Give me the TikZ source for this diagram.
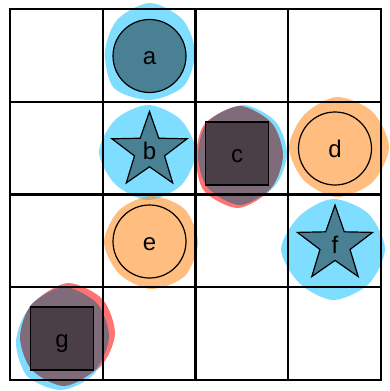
\documentclass[tikz,border=0pt]{standalone}
\usepackage{fontspec}
\setmainfont{Liberation Sans}
\usetikzlibrary{shapes.geometric}
\definecolor{skyb}{RGB}{0,191,255}
\definecolor{orng}{RGB}{255,125,0}
\definecolor{redb}{RGB}{255,0,0}
\definecolor{mauve}{RGB}{128,107,123}
\tikzset{
  blueblob/.style={fill=skyb, fill opacity=0.5},
  orangeblob/.style={fill=orng, fill opacity=0.5},
  redblob/.style={fill=redb, fill opacity=0.55},
  mauveblob/.style={fill=mauve},
  gridline/.style={line width=2.2pt, black},
  shp/.style={draw=black, line width=1.2pt, inner sep=0pt, text height=17.2pt, text depth=0pt, font=\fontsize{24}{28}\selectfont},
  darkfill/.style={fill=black, fill opacity=0.42, text opacity=1},
  circ/.style={shp, circle, minimum size=73pt},
  sq/.style={shp, rectangle, minimum size=62.6pt, line width=1.5pt},
  starshape/.style={shp, star, star points=5, star point ratio=2.5, minimum size=79pt},
}
% #1 style, #2 center, #3-#10 radii at 0,45,...,315 (screen angles, y down)
\newcommand\myblob[3]{%
  \fill[#1] plot[smooth cycle, tension=0.8] coordinates {#3};}
\begin{document}
\begin{tikzpicture}[x=1pt, y=-1pt]
\useasboundingbox (0,0) rectangle (389,391);
\fill[white] (0,0) rectangle (389,391);
% blobs
\begin{scope}[shift={(150,52)}]
\fill[blueblob] plot[smooth cycle] coordinates {(0:45) (45:48) (90:48) (135:51) (180:45) (225:46) (270:49) (315:46)};
\end{scope}
\begin{scope}[shift={(148,152)}]
\fill[blueblob] plot[smooth cycle] coordinates {(0:48) (45:47) (90:48) (135:46) (180:49) (225:46) (270:47) (315:46)};
\end{scope}
\begin{scope}[shift={(151,242)}]
\fill[orangeblob] plot[smooth cycle] coordinates {(0:47) (45:48) (90:47) (135:45) (180:47) (225:45) (270:46) (315:47)};
\end{scope}
\begin{scope}[shift={(337,147)}]
\fill[orangeblob] plot[smooth cycle] coordinates {(0:52) (45:50) (90:50) (135:47) (180:48) (225:46) (270:50) (315:50)};
\end{scope}
\begin{scope}[shift={(333,249)}]
\fill[blueblob] plot[smooth cycle] coordinates {(0:52) (45:50) (90:51) (135:48) (180:52) (225:47) (270:50) (315:50)};
\end{scope}
% c blobs
\begin{scope}[shift={(238,157)}]
\fill[redblob] plot[smooth cycle] coordinates {(0:44) (45:46) (90:51) (135:48) (180:42) (225:47) (270:50) (315:45)};
\end{scope}
\begin{scope}[shift={(243,154)}]
\fill[blueblob] plot[smooth cycle] coordinates {(0:44) (45:45) (90:49) (135:45) (180:43) (225:45) (270:49) (315:46)};
\end{scope}
\begin{scope}[shift={(240,155)}]
\fill[mauveblob] plot[smooth cycle] coordinates {(0:43) (45:45) (90:50) (135:46) (180:42) (225:46) (270:49) (315:45)};
\end{scope}
% g blobs
\begin{scope}[shift={(68,334)}]
\fill[redblob] plot[smooth cycle] coordinates {(0:47) (45:46) (90:48) (135:45) (180:44) (225:46) (270:51) (315:49)};
\end{scope}
\begin{scope}[shift={(61,342)}]
\fill[blueblob] plot[smooth cycle] coordinates {(0:45) (45:46) (90:48) (135:48) (180:45) (225:46) (270:48) (315:44)};
\end{scope}
\begin{scope}[shift={(64,337)}]
\fill[mauveblob] plot[smooth cycle] coordinates {(0:45) (45:45) (90:49) (135:46) (180:44) (225:46) (270:50) (315:47)};
\end{scope}
% grid
\foreach \v in {10,102.75,195.5,288.25,381} {
  \draw[gridline] (\v,9) -- (\v,380);
}
\foreach \h in {9,101.75,194.5,287.25,380} {
  \draw[gridline] (10,\h) -- (381,\h);
}
\draw[gridline, line cap=rect] (10,9) rectangle (381,380);
% shapes
\node[circ, darkfill] (a) at (149.5,56) {a};
\node[starshape, darkfill] (b) at (149.5,151) {b};
\node[sq, darkfill] (c) at (237,153.5) {c};
\node[circ] (d) at (335,148.5) {d};
\node[circ] (e) at (149.5,241.5) {e};
\node[starshape, darkfill] (f) at (335,244.6) {f};
\node[sq, darkfill] (g) at (62,338.5) {g};
\end{tikzpicture}
\end{document}
